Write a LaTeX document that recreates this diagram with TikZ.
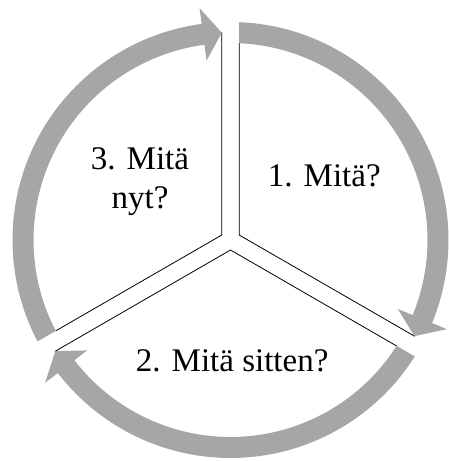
\documentclass[tikz,border=0pt]{standalone}
\usepackage{fontspec}
\setmainfont{Liberation Serif}
\definecolor{ringgray}{RGB}{166,166,166}
\tikzset{
  ring/.style={fill=ringgray, draw=none},
  sepline/.style={draw=black, line width=0.8pt, line join=miter},
  lbl/.style={font=\fontsize{33}{38.3}\selectfont, inner sep=0pt, align=center}
}
\newcommand\ringarrow[4]{%
  \fill[ring] (#1:218pt) arc[start angle=#1, end angle=#3, radius=218pt]
    -- (#3:234pt) -- (#4:207.5pt) -- (#3:181pt) -- (#3:197pt)
    arc[start angle=#3, end angle=#2, radius=197pt] -- cycle;}
\begin{document}
\begin{tikzpicture}[x=1pt,y=1pt]
\useasboundingbox (0,0) rectangle (448,461);
\coordinate (C) at (230.5,221);
\begin{scope}[shift={(C)}]
  % inner corners of the three sectors
  \coordinate (Q1) at (150:10pt);
  \coordinate (Q2) at (30:10pt);
  \coordinate (Q3) at (270:10pt);
  % outer ends of the separator lines
  \coordinate (A1) at (92.4:208pt);
  \coordinate (B1) at (87.47:197pt);
  \coordinate (A2) at (-27.6:208pt);
  \coordinate (B2) at (-32.53:197pt);
  \coordinate (A3) at (212.4:208pt);
  \coordinate (B3) at (207.47:197pt);
  \draw[sepline] (B3) -- (Q1) -- (A1);
  \draw[sepline] (B1) -- (Q2) -- (A2);
  \draw[sepline] (B2) -- (Q3) -- (A3);
  % gray cycle arrows
  \ringarrow{87.7}{87.5}{-22.4}{-27.6}
  \ringarrow{-32.3}{-32.5}{-142.4}{-147.6}
  \ringarrow{207.7}{207.5}{97.6}{92.4}
\end{scope}
\node[lbl, anchor=base] (n1) at (324.3,274.3) {1. Mitä?};
\node[lbl, anchor=base] (n2) at (232.2,89.3) {2. Mitä sitten?};
\node[lbl, anchor=base] (n3) at (140,252.7) {3. Mitä\\nyt?};
\end{tikzpicture}
\end{document}
